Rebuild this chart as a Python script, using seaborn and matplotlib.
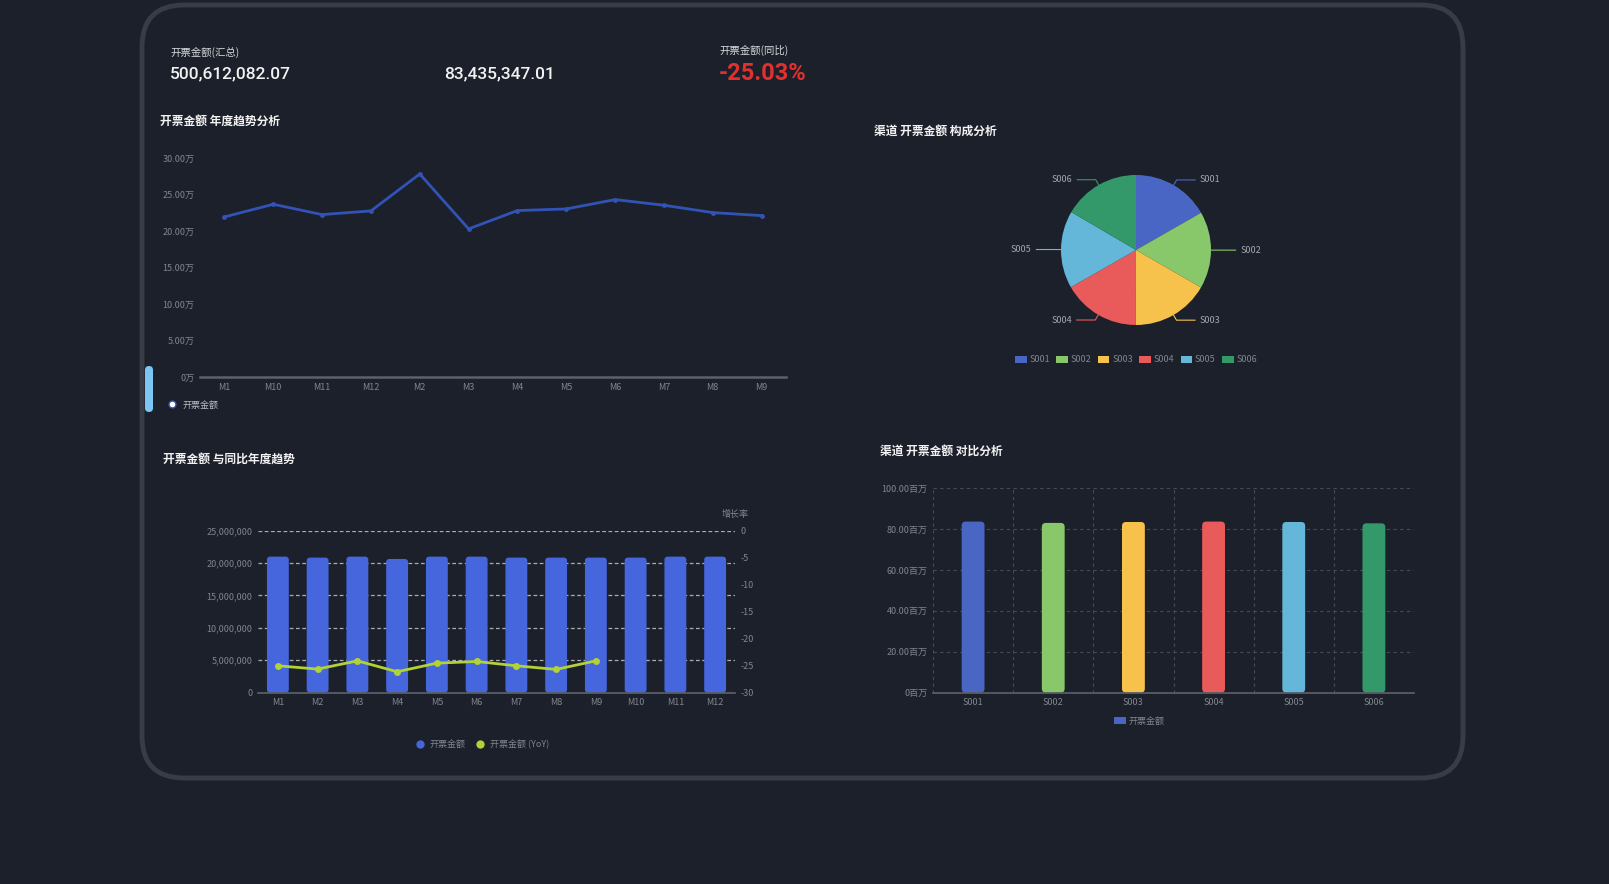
import numpy as np
import matplotlib
matplotlib.use("Agg")
import matplotlib.pyplot as plt
import seaborn as sns
from matplotlib.patches import FancyBboxPatch, Patch
from matplotlib.lines import Line2D
from matplotlib.ticker import FuncFormatter

# ---- data ----
kpi_total = "500,612,082.07"
kpi_avg = "83,435,347.01"
kpi_yoy = "-25.03%"

trend_months = ["M1", "M10", "M11", "M12", "M2", "M3", "M4", "M5", "M6", "M7", "M8", "M9"]
trend_vals = [21.93, 23.66, 22.25, 22.75, 27.81, 20.29, 22.80, 23.02, 24.30, 23.53, 22.52, 22.11]  # 万

bar_months = ["M1", "M2", "M3", "M4", "M5", "M6", "M7", "M8", "M9", "M10", "M11", "M12"]
bar_amounts = [20970000, 20820000, 20970000, 20610000, 20970000, 20970000,
               20820000, 20820000, 20820000, 20820000, 20970000, 20970000]
yoy_vals = [-25.04, -25.65, -24.12, -26.14, -24.55, -24.24, -25.04, -25.71, -24.12]

channels = ["S001", "S002", "S003", "S004", "S005", "S006"]
channel_vals = [83.75, 83.10, 83.55, 83.75, 83.55, 82.90]  # 百万
channel_colors = ["#4a66c4", "#88c76a", "#f6c24c", "#e95a5a", "#64b7d9", "#33996a"]

# ---- style ----
BG = "#1c202a"
TXT = "#80858e"
sns.set_theme(style="dark", rc={"axes.facecolor": "none", "figure.facecolor": BG,
                                "axes.unicode_minus": False, "patch.edgecolor": "none"})
plt.rcParams['font.family'] = ['Noto Sans CJK SC', 'DejaVu Sans']

W, H = 1609, 884
fig = plt.figure(figsize=(W / 100, H / 100), dpi=100)


def px_axes(x0, y0, x1, y1):
    return fig.add_axes([x0 / W, 1 - y1 / H, (x1 - x0) / W, (y1 - y0) / H])


def round_bars(ax, radius_px):
    # swap the bar rectangles for rounded ones of the same size
    pos = ax.get_position()
    x0, x1 = ax.get_xlim()
    y0, y1 = ax.get_ylim()
    ux = (x1 - x0) / (pos.width * W)
    uy = (y1 - y0) / (pos.height * H)
    for p in list(ax.patches):
        x, y = p.get_xy()
        fb = FancyBboxPatch((x, y), p.get_width(), p.get_height(),
                            boxstyle=f"round,pad=0,rounding_size={radius_px * ux}",
                            mutation_aspect=uy / ux, fc=p.get_facecolor(), ec="none",
                            zorder=p.get_zorder())
        p.remove()
        ax.add_patch(fb)


# background layer in pixel coords
bg = fig.add_axes([0, 0, 1, 1], zorder=-5)
bg.set_xlim(0, W)
bg.set_ylim(H, 0)
bg.axis("off")
bg.add_patch(FancyBboxPatch((142, 5), 1321, 773, boxstyle="round,pad=0,rounding_size=42",
                            fc=BG, ec="#393c44", lw=3.5))
bg.add_patch(FancyBboxPatch((145, 366), 8, 46, boxstyle="round,pad=0,rounding_size=4",
                            fc="#7cc6f6", ec="none"))

# KPI
num_font = ["Roboto", "DejaVu Sans"]
bg.text(170, 52, "开票金额(汇总)", color="#d6d8dc", fontsize=7.5, va="center")
bg.text(170, 74, kpi_total, color="#f2f2f2", fontsize=12.5, va="center", fontweight="medium",
        family=num_font)
bg.text(444, 74, kpi_avg, color="#f2f2f2", fontsize=12.5, va="center", fontweight="medium",
        family=num_font)
bg.text(719, 50, "开票金额(同比)", color="#d6d8dc", fontsize=7.5, va="center")
bg.text(719, 74, kpi_yoy, color="#e3302f", fontsize=17, va="center", fontweight="bold",
        family=num_font)

# titles
title_kw = dict(color="#f2f2f2", fontsize=8.5, fontweight="bold", va="center")
bg.text(160, 121, "开票金额 年度趋势分析", **title_kw)
bg.text(874, 131, "渠道 开票金额 构成分析", **title_kw)
bg.text(163, 459, "开票金额 与同比年度趋势", **title_kw)
bg.text(880, 451, "渠道 开票金额 对比分析", **title_kw)


def style_axis(ax, spine_color="#5d616a", lw=1.5):
    for s in ["top", "right", "left"]:
        ax.spines[s].set_visible(False)
    ax.spines["bottom"].set_color(spine_color)
    ax.spines["bottom"].set_linewidth(lw)
    ax.tick_params(axis="both", length=0, labelsize=6.5, labelcolor=TXT, pad=4)
    ax.set_xlabel("")
    ax.set_ylabel("")


def wan(v, pos):
    return "0万" if v == 0 else f"{v:.2f}万"


# ---- 1. line trend ----
ax1 = px_axes(200, 158, 786, 377)
sns.lineplot(x=trend_months, y=trend_vals, sort=False, ax=ax1, color="#3253b6", lw=2,
             marker="o", markersize=3.5, markeredgewidth=0)
ax1.set_xlim(-0.5, len(trend_months) - 0.5)
ax1.set_ylim(0, 30)
ax1.set_yticks(np.arange(0, 31, 5))
ax1.yaxis.set_major_formatter(FuncFormatter(wan))
style_axis(ax1, lw=1.8)
ax1.grid(False)
ax1.legend(handles=[Line2D([], [], marker="o", color="#3253b6", markerfacecolor="white",
                           markersize=5, lw=0)], labels=["开票金额"],
           loc="center left", bbox_to_anchor=(155 / W, 1 - 405 / H), bbox_transform=fig.transFigure,
           frameon=False, fontsize=6.5, labelcolor="#b8bcc3", handletextpad=0.1)

# ---- 2. pie ----
ax2 = px_axes(961, 150, 1311, 350)
wedges, _ = ax2.pie(channel_vals, colors=channel_colors, startangle=90, counterclock=False,
                    radius=1, center=(0, 0), frame=True, wedgeprops=dict(linewidth=0))
ax2.set_xlim(-350 / 150, 350 / 150)
ax2.set_ylim(-200 / 150, 200 / 150)
ax2.axis("off")
for w, lab, c in zip(wedges, channels, channel_colors):
    th = np.deg2rad((w.theta1 + w.theta2) / 2)
    cx, cy = np.cos(th), np.sin(th)
    sgn = 1 if cx >= 0 else -1
    p1 = (1.08 * cx, 1.08 * cy)
    p2 = (p1[0] + sgn * 0.25, p1[1])
    ax2.plot([cx, p1[0], p2[0]], [cy, p1[1], p2[1]], color=c, lw=0.8)
    ax2.text(p2[0] + sgn * 0.06, p2[1], lab, color="#a3a7ae", fontsize=6.5,
             ha="left" if sgn > 0 else "right", va="center")
ax2.legend(handles=[Patch(fc=c, ec="none") for c in channel_colors], labels=channels, ncol=6,
           loc="center", bbox_to_anchor=(1136 / W, 1 - 360 / H), bbox_transform=fig.transFigure,
           frameon=False, fontsize=6.5, labelcolor=TXT, handlelength=1.3, handleheight=0.8,
           handletextpad=0.3, columnspacing=0.7)

# ---- 3. bars + yoy ----
ax3 = px_axes(258, 530.5, 735, 692.6)
sns.barplot(x=bar_months, y=bar_amounts, color="#4566dc", width=0.55, saturation=1, ax=ax3,
            linewidth=0)
ax3.set_ylim(0, 25e6)
ax3.set_yticks(np.arange(0, 25e6 + 1, 5e6))
ax3.yaxis.set_major_formatter(FuncFormatter(lambda v, p: f"{v:,.0f}"))
style_axis(ax3, lw=1.2)
ax3.yaxis.grid(True, ls=(0, (3, 2)), color="#a9adb5", lw=0.9)
ax3.xaxis.grid(False)
ax3.set_axisbelow(True)
ax3.set_xlim(-0.5, len(bar_months) - 0.5)
round_bars(ax3, 3)
ax3b = ax3.twinx()
sns.lineplot(x=np.arange(len(yoy_vals)), y=yoy_vals, ax=ax3b, color="#b2d235", lw=2,
             marker="o", markersize=5, markeredgewidth=0)
ax3b.set_ylim(-30, 0)
ax3b.set_yticks(np.arange(-30, 1, 5))
ax3b.grid(False)
for s in ax3b.spines.values():
    s.set_visible(False)
ax3b.tick_params(axis="y", length=0, labelsize=6.5, labelcolor=TXT, pad=4)
ax3b.set_ylabel("")
ax3.set_xlim(-0.5, len(bar_months) - 0.5)
ax3.set_xticks(range(len(bar_months)), bar_months)
bg.text(735, 514, "增长率", color=TXT, fontsize=6.5, ha="center", va="center")
ax3.legend(handles=[Line2D([], [], marker="o", color="#4566dc", markersize=5, lw=0),
                    Line2D([], [], marker="o", color="#b2d235", markersize=5, lw=0)],
           labels=["开票金额", "开票金额 (YoY)"], ncol=2,
           loc="center", bbox_to_anchor=(480 / W, 1 - 744 / H), bbox_transform=fig.transFigure,
           frameon=False, fontsize=6.5, labelcolor=TXT, handletextpad=0.1, columnspacing=0.6)

# ---- 4. channel bars ----
ax4 = px_axes(933, 488.4, 1414, 692.6)
sns.barplot(x=channels, y=channel_vals, hue=channels, palette=channel_colors, legend=False,
            width=0.285, saturation=1, ax=ax4, linewidth=0)
ax4.set_ylim(0, 100)
ax4.set_yticks(np.arange(0, 101, 20))
ax4.yaxis.set_major_formatter(FuncFormatter(lambda v, p: "0百万" if v == 0 else f"{v:.2f}百万"))
style_axis(ax4, lw=1.2)
ax4.set_xlim(-0.5, len(channels) - 0.5)
ax4.set_xticks(np.arange(-0.5, len(channels), 1), minor=True)
ax4.yaxis.grid(True, ls=(0, (3, 3)), color="#454a55", lw=0.8)
ax4.xaxis.grid(True, which="minor", ls=(0, (3, 3)), color="#454a55", lw=0.8)
ax4.xaxis.grid(False, which="major")
ax4.tick_params(axis="x", which="minor", length=0)
ax4.set_axisbelow(True)
round_bars(ax4, 4)
ax4.legend(handles=[Patch(fc="#4a66c4", ec="none")], labels=["开票金额"],
           loc="center", bbox_to_anchor=(1139 / W, 1 - 721 / H), bbox_transform=fig.transFigure,
           frameon=False, fontsize=6.5, labelcolor=TXT, handlelength=1.3, handleheight=0.8,
           handletextpad=0.3)

fig.savefig("out.png", dpi=100, facecolor=BG)
